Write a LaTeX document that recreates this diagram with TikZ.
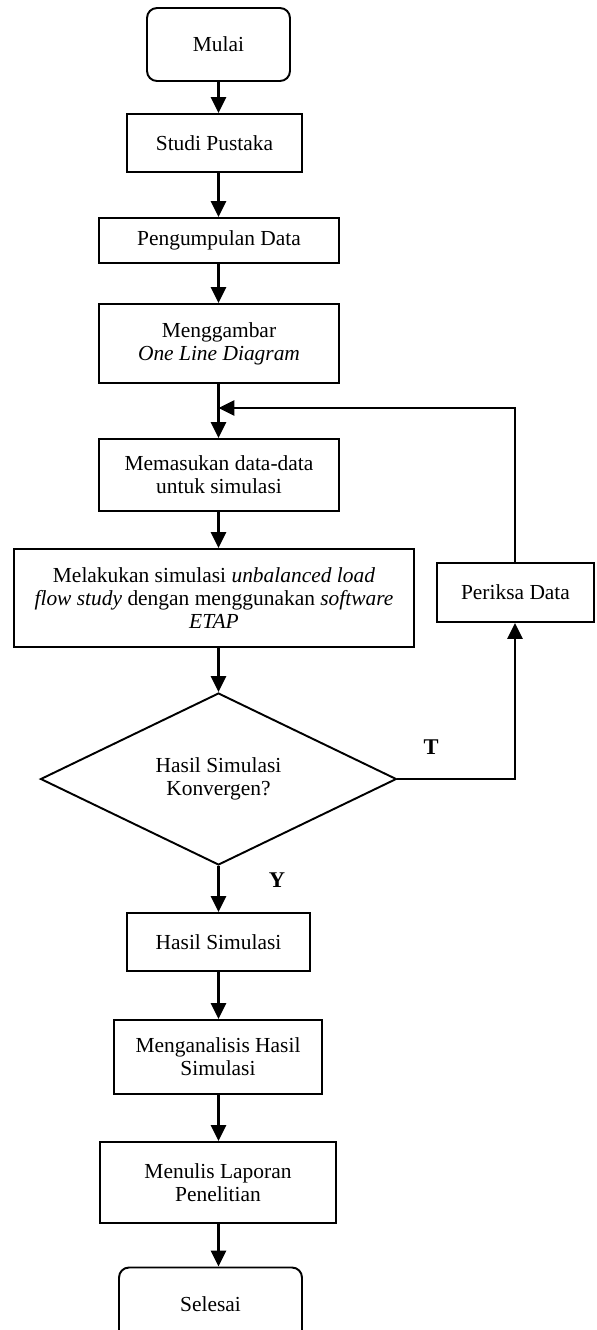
\documentclass[tikz,border=0pt]{standalone}
\usepackage{fontspec}
\setmainfont{Liberation Serif}
\usetikzlibrary{shapes.geometric,arrows.meta,positioning}

\begin{document}
\begin{tikzpicture}[x=0.02cm, y=-0.02cm,
  every node/.style={font=\fontsize{12.2}{13.2}\selectfont},
  proc/.style={draw, line width=1.1pt, align=center, inner sep=2pt},
  term/.style={proc, rounded corners=0.2cm, minimum height=1.46cm},
  cond/.style={draw, diamond, line width=1.1pt, align=center, inner sep=0pt, minimum width=7.12cm, minimum height=3.44cm},
  link/.style={line width=1.6pt, -{Triangle[length=0.32cm,width=0.3cm]}},
  tag/.style={font=\fontsize{12.8}{14}\selectfont\bfseries},
]

\useasboundingbox (0,0) rectangle (597,1330);
\clip (0,0) rectangle (597,1330);

% --- main column ---
\node[term, minimum width=2.86cm] (mulai) at (218.5,44.5) {Mulai};
\node[proc, minimum width=3.5cm, minimum height=1.16cm] (studi) at (214.5,143) {Studi Pustaka};
\node[proc, minimum width=4.8cm, minimum height=0.9cm] (kumpul) at (219,240.5) {Pengumpulan Data};
\node[proc, minimum width=4.8cm, minimum height=1.58cm] (gambar) at (219,343.5) {Menggambar\\\textit{One Line Diagram}};
\node[proc, minimum width=4.8cm, minimum height=1.44cm] (input) at (219,475) {Memasukan data-data\\untuk simulasi};
\node[proc, minimum width=8cm, minimum height=1.96cm] (simulasi) at (214,598) {Melakukan simulasi \textit{unbalanced load}\\\textit{flow study} dengan menggunakan \textit{software}\\\textit{ETAP}};
\node[cond] (cek) at (218.5,779) {Hasil Simulasi\\Konvergen?};
\node[proc, minimum width=3.66cm, minimum height=1.16cm] (hasil) at (218.5,942) {Hasil Simulasi};
\node[proc, minimum width=4.16cm, minimum height=1.48cm] (analisis) at (218,1057) {Menganalisis Hasil\\Simulasi};
\node[proc, minimum width=4.72cm, minimum height=1.62cm] (laporan) at (218,1182.5) {Menulis Laporan\\Penelitian};
\node[term, minimum width=3.66cm] (selesai) at (210.5,1304) {Selesai};

% --- loop back ---
\node[proc, minimum width=3.14cm, minimum height=1.18cm] (periksa) at (515.5,592.5) {Periksa Data};
\coordinate (sumbu) at (218.5,0);
\coordinate (gabung) at (218.5,408);
\coordinate (sudut) at (515,779);

\node[tag] (tagT) at (431,747) {T};
\node[tag] (tagY) at (277,880) {Y};

% --- connectors ---
\draw[link] (mulai.south -| sumbu) -- (studi.north -| sumbu);
\draw[link] (studi.south -| sumbu) -- (kumpul.north -| sumbu);
\draw[link] (kumpul.south -| sumbu) -- (gambar.north -| sumbu);
\draw[link] (gambar.south -| sumbu) -- (input.north -| sumbu);
\draw[link] (input.south -| sumbu) -- (simulasi.north -| sumbu);
\draw[link] (simulasi.south -| sumbu) -- (cek.north);
\draw[link] (cek.south) -- (hasil.north -| sumbu);
\draw[link] (hasil.south -| sumbu) -- (analisis.north -| sumbu);
\draw[link] (analisis.south -| sumbu) -- (laporan.north -| sumbu);
\draw[link] (laporan.south -| sumbu) -- (selesai.north -| sumbu);

\draw[link] (cek.east) -- (sudut) -- (periksa.south -| sudut);
\draw[link] (periksa.north -| sudut) |- (gabung);

\end{tikzpicture}
\end{document}
